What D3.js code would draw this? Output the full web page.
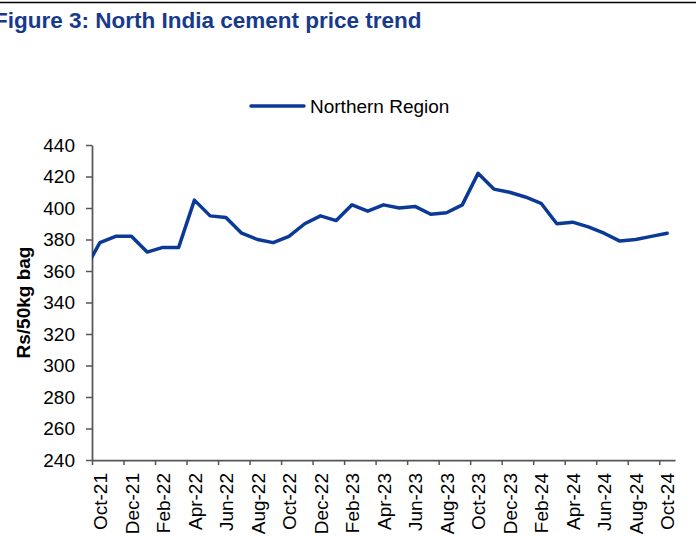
<!DOCTYPE html>
<html>
<head>
<meta charset="utf-8">
<script src="https://cdn.jsdelivr.net/npm/d3@7"></script>
<style>
  html, body { margin: 0; padding: 0; background: #fff; }
  svg { display: block; font-family: "Liberation Sans", Arial, Helvetica, sans-serif; }
</style>
</head>
<body>
<svg id="chart" width="696" height="536"></svg>
<script>
// ---- data ----
const months = ["Sep-21","Oct-21","Nov-21","Dec-21","Jan-22","Feb-22","Mar-22","Apr-22","May-22","Jun-22","Jul-22","Aug-22",
  "Sep-22","Oct-22","Nov-22","Dec-22","Jan-23","Feb-23","Mar-23","Apr-23","May-23","Jun-23","Jul-23","Aug-23",
  "Sep-23","Oct-23","Nov-23","Dec-23","Jan-24","Feb-24","Mar-24","Apr-24","May-24","Jun-24","Jul-24","Aug-24",
  "Sep-24","Oct-24"];
const northern = [360,378,382,382,372,375,375,405,395,394,384,380,
  378,382,390,395,392,402,398,402,400,401,396,397,
  402,422,412,410,407,403,390,391,388,384,379,380,
  382,384];
const xLabels = ["Oct-21","Dec-21","Feb-22","Apr-22","Jun-22","Aug-22","Oct-22","Dec-22","Feb-23","Apr-23",
  "Jun-23","Aug-23","Oct-23","Dec-23","Feb-24","Apr-24","Jun-24","Aug-24","Oct-24"];
const yTicks = [240,260,280,300,320,340,360,380,400,420,440];
const seriesName = "Northern Region";
const yTitle = "Rs/50kg bag";
const chartTitle = "Figure 3: North India cement price trend";

// ---- layout ----
const svg = d3.select("#chart");
const pLeft = 92, pRight = 675, pTop = 145, pBottom = 460;
const firstShown = months.indexOf("Oct-21");
const nShown = months.length - firstShown;

const x = d3.scaleLinear().domain([-0.5, nShown - 0.5]).range([pLeft, pRight]);
const y = d3.scaleLinear().domain([240, 440]).range([pBottom, pTop]);

// top rule
svg.append("line").attr("x1", 0).attr("x2", 696).attr("y1", 2.5).attr("y2", 2.5)
  .attr("stroke", "#000").attr("stroke-width", 1.5);

// title (left edge is cropped in the source figure)
svg.append("text").attr("x", -6).attr("y", 28).text(chartTitle)
  .attr("font-size", 22.5).attr("font-weight", "bold").attr("fill", "#173a8c");

// legend
svg.append("line").attr("x1", 251).attr("x2", 304).attr("y1", 106).attr("y2", 106)
  .attr("stroke", "#0b3a96").attr("stroke-width", 3.5).attr("stroke-linecap", "round");
svg.append("text").attr("x", 310).attr("y", 113).text(seriesName)
  .attr("font-size", 19).attr("fill", "#000");

// y axis
const yAxis = d3.axisLeft(y).tickValues(yTicks).tickSize(6).tickSizeOuter(0).tickPadding(11)
  .tickFormat(d3.format("d"));
const gy = svg.append("g").attr("transform", `translate(${pLeft},0)`).call(yAxis);
gy.select(".domain").attr("stroke", "#555").attr("stroke-width", 1.75);
gy.selectAll(".tick line").attr("stroke", "#555").attr("stroke-width", 1.5);
gy.selectAll(".tick text").attr("font-size", 19).attr("fill", "#000")
  .attr("font-family", "Liberation Sans, Arial, sans-serif");

// y title
svg.append("text").attr("transform", `translate(30,${(pTop + pBottom) / 2}) rotate(-90)`)
  .attr("text-anchor", "middle").text(yTitle)
  .attr("font-size", 19).attr("font-weight", "bold").attr("fill", "#000");

// x axis: tick marks at category boundaries every 2 months
const tickPos = d3.range(0, nShown, 2).map(i => i - 0.5);
const xAxisTicks = d3.axisBottom(x).tickValues(tickPos).tickSize(5).tickSizeOuter(0).tickFormat("");
const gx = svg.append("g").attr("transform", `translate(0,${pBottom})`).call(xAxisTicks);
gx.select(".domain").attr("stroke", "#555").attr("stroke-width", 1.75);
gx.selectAll(".tick line").attr("stroke", "#555").attr("stroke-width", 1.5);

// x labels centred on categories
const labelPos = xLabels.map(l => months.indexOf(l) - firstShown);
const xAxisLabels = d3.axisBottom(x).tickValues(labelPos).tickSize(0).tickSizeOuter(0)
  .tickFormat((d, i) => xLabels[i]);
const gxl = svg.append("g").attr("transform", `translate(0,${pBottom})`).call(xAxisLabels);
gxl.select(".domain").remove();
gxl.selectAll(".tick text")
  .attr("font-size", 19).attr("fill", "#000")
  .attr("font-family", "Liberation Sans, Arial, sans-serif")
  .attr("text-anchor", "end")
  .attr("transform", "rotate(-90)")
  .attr("x", -13).attr("y", 0).attr("dy", "0.36em");

// clip
svg.append("clipPath").attr("id", "plotclip").append("rect")
  .attr("x", pLeft).attr("y", 0).attr("width", pRight - pLeft + 10).attr("height", pBottom);

// line
const line = d3.line()
  .x((d, i) => x(i - firstShown))
  .y(d => y(d));
svg.append("path").datum(northern)
  .attr("clip-path", "url(#plotclip)")
  .attr("d", line)
  .attr("fill", "none").attr("stroke", "#0b3a96").attr("stroke-width", 3.5)
  .attr("stroke-linejoin", "round").attr("stroke-linecap", "round");
</script>
</body>
</html>
